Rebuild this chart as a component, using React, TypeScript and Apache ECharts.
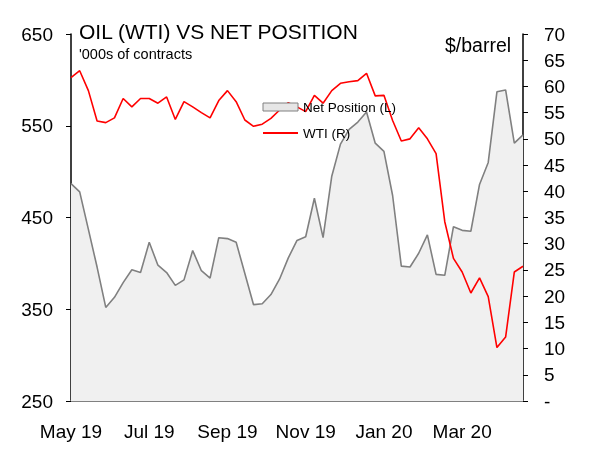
import React, { useEffect, useRef } from "react";
import * as echarts from "echarts";

const weeks = [
  "2019-05-14", "2019-05-21", "2019-05-28", "2019-06-04", "2019-06-11", "2019-06-18", "2019-06-25",
  "2019-07-02", "2019-07-09", "2019-07-16", "2019-07-23", "2019-07-30", "2019-08-06", "2019-08-13",
  "2019-08-20", "2019-08-27", "2019-09-03", "2019-09-10", "2019-09-17", "2019-09-24", "2019-10-01",
  "2019-10-08", "2019-10-15", "2019-10-22", "2019-10-29", "2019-11-05", "2019-11-12", "2019-11-19",
  "2019-11-26", "2019-12-03", "2019-12-10", "2019-12-17", "2019-12-24", "2019-12-31", "2020-01-07",
  "2020-01-14", "2020-01-21", "2020-01-28", "2020-02-04", "2020-02-11", "2020-02-18", "2020-02-25",
  "2020-03-03", "2020-03-10", "2020-03-17", "2020-03-24", "2020-03-31", "2020-04-07", "2020-04-14",
  "2020-04-21", "2020-04-28", "2020-05-05", "2020-05-12",
];

const xTickLabels = ["May 19", "Jul 19", "Sep 19", "Nov 19", "Jan 20", "Mar 20"];

const netPosition = [
  487, 478, 437, 396, 352, 363, 379, 393, 390, 423, 398, 390, 376, 382, 414, 392, 384, 428,
  427, 423, 389, 355, 356, 366, 383, 406, 425, 429, 471, 428, 495, 530, 546, 554, 565, 531,
  522, 474, 397, 396, 411, 431, 388, 387, 440, 436, 435, 486, 510, 587, 589, 531, 540,
];

const wti = [
  61.7, 63.0, 59.2, 53.4, 53.1, 54.0, 57.7, 56.1, 57.7, 57.7, 56.8, 58.0, 53.7, 57.1, 56.1,
  55.0, 54.0, 57.3, 59.2, 57.1, 53.6, 52.4, 52.8, 53.9, 55.5, 56.9, 56.1, 55.2, 58.3, 56.8,
  59.2, 60.6, 60.9, 61.1, 62.5, 58.2, 58.3, 53.5, 49.6, 50.0, 52.1, 50.0, 47.2, 34.2, 27.2,
  24.6, 20.6, 23.5, 19.9, 10.2, 12.2, 24.6, 25.7,
];

const FONT = "'Liberation Sans', Arial, sans-serif";

export default function App() {
  const ref = useRef<HTMLDivElement>(null);

  useEffect(() => {
    if (!ref.current) return;
    const chart = echarts.init(ref.current, null, { renderer: "svg" });
    chart.setOption({
      animation: false,
      textStyle: { fontFamily: FONT, color: "#000" },
      title: [
        {
          text: "OIL (WTI) VS NET POSITION",
          left: 79,
          top: 21,
          padding: 0,
          textStyle: { fontSize: 21, fontWeight: "normal", color: "#000", fontFamily: FONT },
        },
        {
          text: "'000s of contracts",
          left: 79,
          top: 46,
          padding: 0,
          textStyle: { fontSize: 14.5, fontWeight: "normal", color: "#000", fontFamily: FONT },
        },
        {
          text: "$/barrel",
          left: 445,
          top: 35,
          padding: 0,
          textStyle: { fontSize: 19.5, fontWeight: "normal", color: "#000", fontFamily: FONT },
        },
      ],
      legend: {
        orient: "vertical",
        left: 262,
        top: 100,
        padding: 0,
        itemWidth: 35,
        itemHeight: 8,
        itemGap: 12,
        textStyle: { fontSize: 13.5, color: "#000", fontFamily: FONT },
        data: [
          {
            name: "Net Position (L)",
            icon: "rect",
            itemStyle: { color: "#e6e6e6", borderColor: "#808080", borderWidth: 1 },
          },
          { name: "WTI (R)", itemStyle: { opacity: 0 } },
        ],
      },
      grid: { left: 71, right: 67, top: 34, bottom: 56 },
      xAxis: {
        type: "category",
        data: weeks,
        boundaryGap: false,
        axisLine: { show: true, lineStyle: { color: "#808080", width: 2 } },
        axisTick: { show: false },
        splitLine: { show: false },
        axisLabel: {
          interval: 8,
          margin: 21,
          fontSize: 19,
          color: "#000",
          fontFamily: FONT,
          formatter: (_v: string, idx: number) => xTickLabels[Math.round(idx / 9)] ?? "",
        },
      },
      yAxis: [
        {
          type: "value",
          position: "left",
          min: 250,
          max: 650,
          interval: 100,
          axisLine: { show: true, lineStyle: { color: "#000", width: 1.5 } },
          axisTick: { show: true, length: 5, lineStyle: { color: "#000", width: 1 } },
          splitLine: { show: false },
          axisLabel: { fontSize: 19, margin: 18, color: "#000", fontFamily: FONT },
        },
        {
          type: "value",
          position: "right",
          min: 0,
          max: 70,
          interval: 5,
          axisLine: { show: true, lineStyle: { color: "#000", width: 1.5 } },
          axisTick: { show: true, length: 5, lineStyle: { color: "#000", width: 1 } },
          splitLine: { show: false },
          axisLabel: {
            fontSize: 19,
            margin: 21,
            align: "left",
            color: "#000",
            fontFamily: FONT,
            formatter: (v: number) => (v === 0 ? "-" : String(v)),
          },
        },
      ],
      series: [
        {
          name: "Net Position (L)",
          type: "line",
          yAxisIndex: 0,
          data: netPosition,
          symbol: "none",
          lineStyle: { color: "#808080", width: 1.6 },
          itemStyle: { color: "#808080" },
          areaStyle: { color: "#f0f0f0", origin: "start", opacity: 1 },
        },
        {
          name: "WTI (R)",
          type: "line",
          yAxisIndex: 1,
          data: wti,
          symbol: "none",
          lineStyle: { color: "#ff0000", width: 1.6 },
          itemStyle: { color: "#ff0000" },
        },
      ],
    });
    return () => chart.dispose();
  }, []);

  return (
    <div
      ref={ref}
      style={{ position: "fixed", left: 0, top: 0, width: 590, height: 457 }}
    />
  );
}
